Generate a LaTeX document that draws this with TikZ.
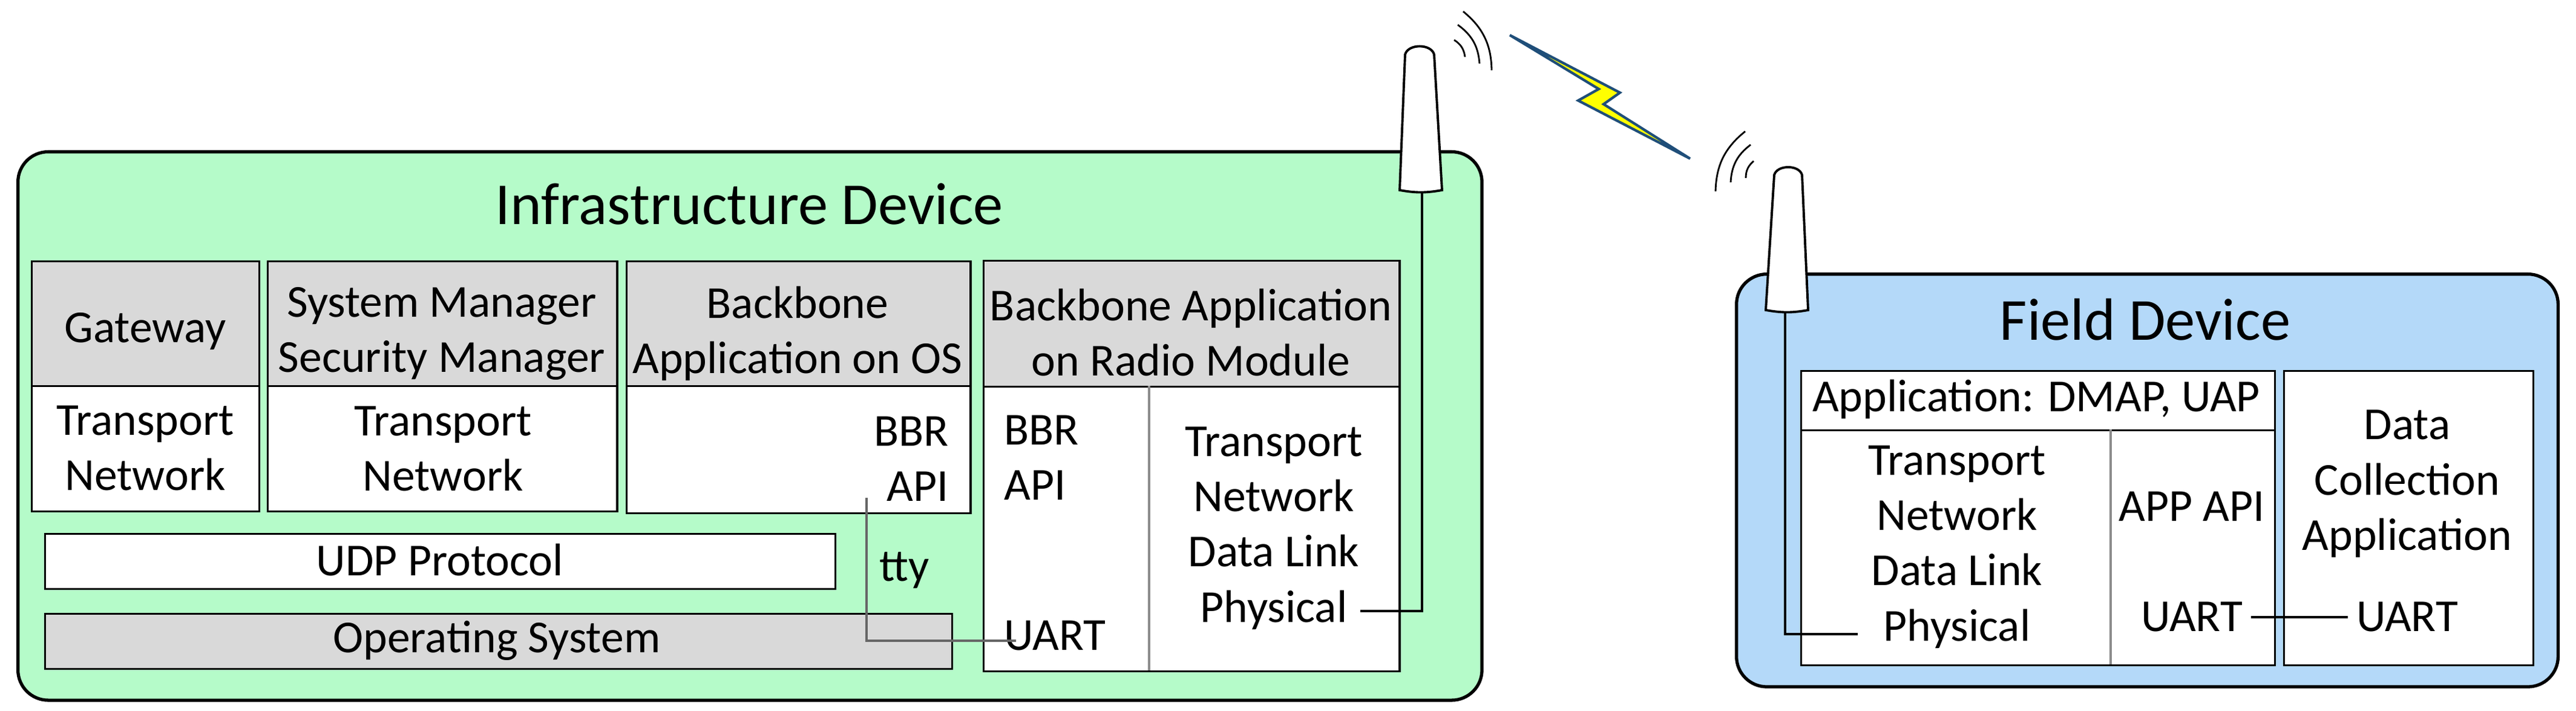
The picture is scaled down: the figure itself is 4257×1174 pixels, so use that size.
\documentclass[tikz,border=0pt]{standalone}
\usepackage{fontspec}
\setmainfont{Carlito}
\usepackage{xcolor}
\usetikzlibrary{positioning}
\definecolor{infragreen}{RGB}{181,251,201}
\definecolor{fieldblue}{RGB}{180,217,249}
\definecolor{layergray}{RGB}{217,217,217}
\definecolor{boltblue}{RGB}{31,78,121}
\definecolor{boltyellow}{RGB}{255,255,0}

\begin{document}
\begin{tikzpicture}[
    x=0.01cm, y=-0.01cm,
    devbox/.style={rectangle, draw, line width=1.5pt, rounded corners=0.5cm, anchor=north west},
    hbox/.style={rectangle, draw, line width=0.9pt, fill=layergray, inner sep=0pt, anchor=north west},
    wbox/.style={rectangle, draw, line width=0.9pt, fill=white, inner sep=0pt, anchor=north west},
    lbl/.style={font=\fontsize{21.5}{26}\selectfont, align=center, inner sep=0pt},
    title/.style={font=\fontsize{28}{34}\selectfont, inner sep=0pt},
    link/.style={line width=1pt},
    greylink/.style={line width=0.9pt, color=black!60},
    divider/.style={line width=0.9pt, color=black!45},
    antenna/.style={draw, fill=white, line width=1.1pt},
    wave/.style={line width=0.8pt}
]
\useasboundingbox (0,0) rectangle (4257,1174);

% infrastructure device
\node[devbox, fill=infragreen, minimum width=24.18cm, minimum height=9.05cm] (infra) at (27,248) {};
\node[title] (infratitle) at (1238,337) {Infrastructure Device};

\node[hbox, minimum width=3.76cm, minimum height=2.06cm] (gwhead) at (51,430) {};
\node[wbox, minimum width=3.76cm, minimum height=2.07cm] (gwbody) at (51,636) {};
\node[lbl] at (240,547) {Gateway};
\node[lbl] at (240,740) {Transport\\Network};

\node[hbox, minimum width=5.77cm, minimum height=2.06cm] (smhead) at (441,430) {};
\node[wbox, minimum width=5.77cm, minimum height=2.07cm] (smbody) at (441,636) {};
\node[lbl] at (730,551) {System Manager\\Security Manager};
\node[lbl] at (732,741) {Transport\\Network};

\node[hbox, minimum width=5.68cm, minimum height=2.06cm] (oshead) at (1034,430) {};
\node[wbox, minimum width=5.68cm, minimum height=2.10cm] (osbody) at (1034,636) {};
\node[lbl] at (1318,551) {Backbone\\Application on OS};
\node[lbl, align=right, anchor=east] (osapi) at (1568,758) {BBR\\API};

\node[wbox, minimum width=13.05cm, minimum height=0.91cm] (udp) at (73,880) {};
\node[lbl] at (727,925) {UDP Protocol};
\node[hbox, minimum width=14.98cm, minimum height=0.91cm] (opsys) at (73,1012) {};
\node[lbl] at (821,1058) {Operating System};
\node[lbl] at (1495,942) {tty};

\node[hbox, minimum width=6.87cm, minimum height=2.08cm] (radiohead) at (1624,429) {};
\node[wbox, minimum width=6.87cm, minimum height=4.70cm] (radiobody) at (1624,637) {};
\coordinate (radiotop) at (1899,637);
\coordinate (radiobot) at (1899,1107);
\draw[divider] (radiotop) -- (radiobot);
\node[lbl] at (1968,549) {Backbone Application\\on Radio Module};
\node[lbl, align=left, anchor=west] at (1659,756) {BBR\\API};
\node[lbl, anchor=west] (radiouart) at (1659,1050) {UART};
\node[lbl] at (2105,872) {Transport\\Network\\Data Link\\Physical};

% antenna on infrastructure device
\draw[antenna] (2313,314) -- (2322,90) to[out=75,in=105] (2370,90) -- (2383,314) to[out=-170,in=-10] cycle;
\coordinate (ant1base) at (2350,318);
\coordinate (phy1) at (2248,1009);
\draw[link] (ant1base) |- (phy1);
\coordinate (apitop) at (1432,822);
\coordinate (uartend) at (1679,1058);
\draw[greylink] (apitop) |- (uartend);

\draw[wave] (2418,19) to[bend left=25] (2465,116);
\draw[wave] (2409,41) to[bend left=25] (2445,105);
\draw[wave] (2403,66) to[bend left=25] (2421,94);

% lightning
\draw[line width=1.2pt, draw=boltblue, fill=boltyellow] (2495,58) -- (2642,147) -- (2608,166) -- (2793,262) -- (2650,172) -- (2677,153) -- cycle;

% field device
\node[devbox, fill=fieldblue, minimum width=13.57cm, minimum height=6.81cm] (field) at (2867,450) {};
\node[title] (fieldtitle) at (3545,528) {Field Device};

\node[wbox, minimum width=7.82cm, minimum height=0.98cm] (apphead) at (2975,611) {};
\node[wbox, minimum width=7.82cm, minimum height=3.88cm] (appbody) at (2975,709) {};
\coordinate (apptop) at (3488,709);
\coordinate (appbot) at (3488,1097);
\draw[divider] (apptop) -- (appbot);
\node[wbox, minimum width=4.12cm, minimum height=4.86cm] (datacol) at (3773,611) {};
\node[lbl] at (3365,659) {Application: DMAP, UAP};
\node[lbl] at (3234,903) {Transport\\Network\\Data Link\\Physical};
\node[lbl] at (3622,836) {APP API};
\node[lbl] (fielduart) at (3622,1019) {UART};
\node[lbl] at (3978,799) {Data\\Collection\\Application};
\node[lbl] (datauart) at (3978,1019) {UART};

% antenna on field device
\draw[antenna] (2918,512) -- (2932,289) to[out=75,in=105] (2978,289) -- (2988,512) to[out=-170,in=-10] cycle;
\coordinate (ant2base) at (2950,516);
\coordinate (phy2) at (3070,1047);
\draw[link] (ant2base) |- (phy2);
\coordinate (uartleft) at (3720,1019);
\coordinate (uartright) at (3880,1019);
\draw[link] (uartleft) -- (uartright);

\draw[wave] (2884,217) to[bend right=25] (2835,316);
\draw[wave] (2893,239) to[bend right=25] (2860,301);
\draw[wave] (2898,266) to[bend right=25] (2885,294);
\end{tikzpicture}
\end{document}
